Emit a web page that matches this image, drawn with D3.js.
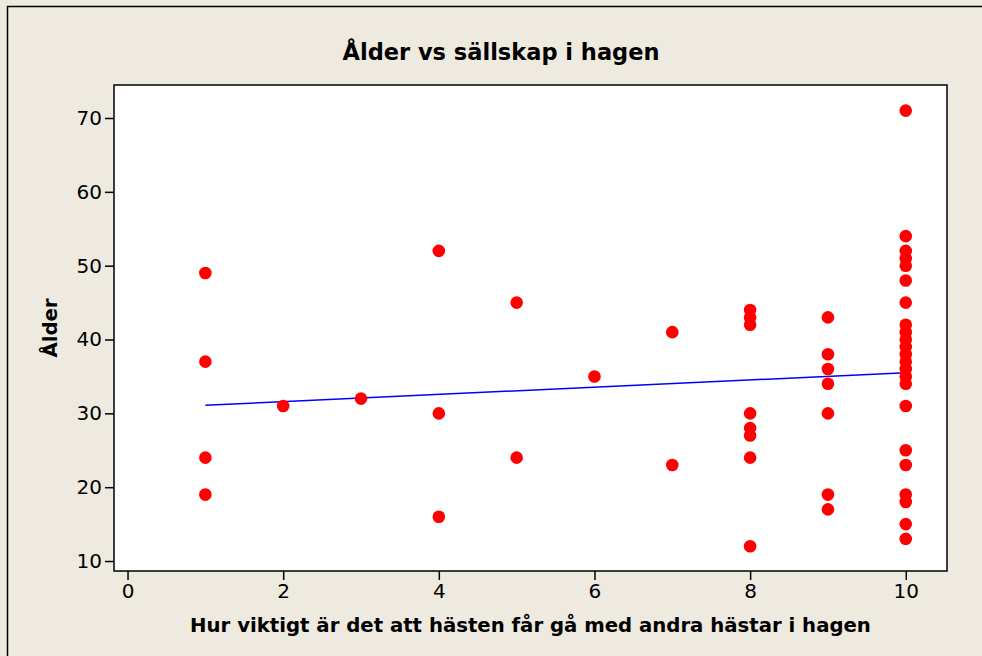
<!DOCTYPE html>
<html>
<head>
<meta charset="utf-8">
<script src="https://cdn.jsdelivr.net/npm/d3@7"></script>
<style>
  body { margin: 0; background: #eeeae0; }
  svg text { font-family: "DejaVu Sans", Verdana, sans-serif; fill: #000; }
</style>
</head>
<body>
<script>
// Ålder (age) per answer on the 1-10 scale
var scaleAnswers = [1, 1, 1, 1,
                    2,
                    3,
                    4, 4, 4,
                    5, 5,
                    6,
                    7, 7,
                    8, 8, 8, 8, 8, 8, 8, 8,
                    9, 9, 9, 9, 9, 9, 9,
                    10, 10, 10, 10, 10, 10, 10, 10, 10, 10, 10, 10, 10, 10, 10, 10, 10, 10, 10, 10, 10, 10, 10]
var ages = [49, 37, 24, 19,
            31,
            32,
            52, 30, 16,
            45, 24,
            35,
            41, 23,
            44, 43, 42, 30, 28, 27, 24, 12,
            43, 38, 36, 34, 30, 19, 17,
            71, 54, 52, 51, 50, 48, 45, 42, 41, 40, 39, 38, 37, 36, 35, 34, 31, 25, 23, 19, 18, 15, 13]

// fitted line end points
var fitX = [1, 10]
var fitY = [31.1, 35.5]

var xTicks = [0, 2, 4, 6, 8, 10]
var yTicks = [10, 20, 30, 40, 50, 60, 70]

var W = 982, H = 656
var plot = {left: 114, top: 85, right: 947, bottom: 571}

var svg = d3.select("body").append("svg")
    .attr("width", W)
    .attr("height", H)

// outer frame (only top and left edges show)
svg.append("path")
    .attr("d", "M7.5," + H + "V6.5H" + W)
    .attr("fill", "none")
    .attr("stroke", "#000")
    .attr("stroke-width", 1.5)

var x = d3.scaleLinear()
    .domain([-0.174, 10.53])
    .range([plot.left, plot.right])

var y = d3.scaleLinear()
    .domain([8.65, 74.47])
    .range([plot.bottom, plot.top])

svg.append("rect")
    .attr("x", plot.left)
    .attr("y", plot.top)
    .attr("width", plot.right - plot.left)
    .attr("height", plot.bottom - plot.top)
    .attr("fill", "#fff")

// axes
var xAxis = svg.append("g")
    .attr("transform", "translate(0," + plot.bottom + ")")
    .call(d3.axisBottom(x).tickValues(xTicks).tickSize(9).tickPadding(4).tickSizeOuter(0))
var yAxis = svg.append("g")
    .attr("transform", "translate(" + plot.left + ",0)")
    .call(d3.axisLeft(y).tickValues(yTicks).tickSize(9).tickPadding(3).tickSizeOuter(0))

svg.selectAll(".domain").remove()
svg.selectAll(".tick line").attr("stroke", "#000").attr("stroke-width", 1.5)
svg.selectAll(".tick text")
    .style("font-family", "DejaVu Sans, sans-serif")
    .style("font-size", "20px")
    .attr("fill", "#000")

// fitted line
var line = d3.line()
    .x(function(d, i) { return x(fitX[i]) })
    .y(function(d) { return y(d) })

svg.append("path")
    .datum(fitY)
    .attr("d", line)
    .attr("fill", "none")
    .attr("stroke", "#0000ff")
    .attr("stroke-width", 1.5)

// points
svg.selectAll(".dot")
    .data(ages)
    .enter()
    .append("circle")
    .attr("class", "dot")
    .attr("cx", function(d, i) { return x(scaleAnswers[i]) })
    .attr("cy", function(d) { return y(d) })
    .attr("r", 6.3)
    .attr("fill", "#ff0000")

// plot border
svg.append("rect")
    .attr("x", plot.left)
    .attr("y", plot.top)
    .attr("width", plot.right - plot.left)
    .attr("height", plot.bottom - plot.top)
    .attr("fill", "none")
    .attr("stroke", "#000")
    .attr("stroke-width", 1.5)

// titles
svg.append("text")
    .attr("x", 501)
    .attr("y", 60)
    .attr("text-anchor", "middle")
    .style("font-size", "22.5px")
    .style("font-weight", "bold")
    .text("Ålder vs sällskap i hagen")

svg.append("text")
    .attr("x", (plot.left + plot.right) / 2)
    .attr("y", 632)
    .attr("text-anchor", "middle")
    .style("font-size", "19.7px")
    .style("font-weight", "bold")
    .text("Hur viktigt är det att hästen får gå med andra hästar i hagen")

svg.append("text")
    .attr("transform", "translate(57," + ((plot.top + plot.bottom) / 2) + ")rotate(-90)")
    .attr("text-anchor", "middle")
    .style("font-size", "19.7px")
    .style("font-weight", "bold")
    .text("Ålder")
</script>
</body>
</html>
